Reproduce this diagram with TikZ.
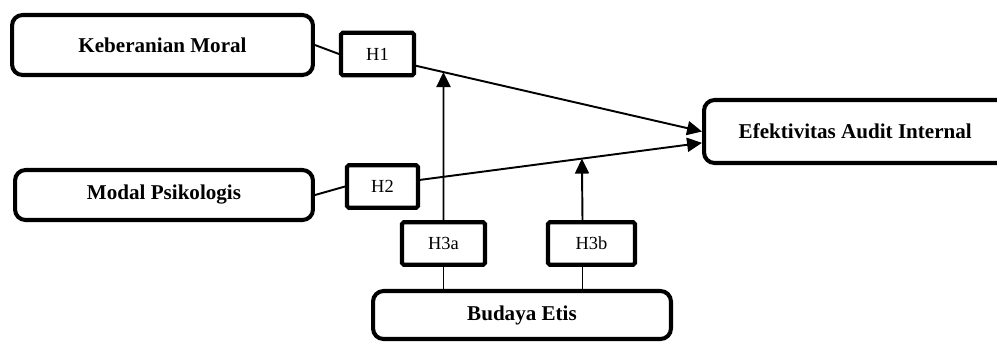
\documentclass[tikz,border=0pt]{standalone}
\usepackage{fontspec}
\setmainfont{Liberation Serif}
\usetikzlibrary{arrows.meta, calc}

\begin{document}
\begin{tikzpicture}[
  x=0.02cm, y=-0.02cm,
  varbox/.style={rectangle, rounded corners=6pt, draw, line width=2.3pt,
                 minimum width=5.96cm, align=center,
                 font=\fontsize{12}{14}\selectfont\bfseries},
  hyp/.style={rectangle, rounded corners=1pt, draw, line width=2.3pt,
              minimum height=0.85cm, font=\fontsize{10.5}{12}\selectfont},
  link/.style={line width=1.1pt},
  arr/.style={-{Triangle[length=8.5pt, width=8pt]}, line width=1.1pt}
]
\useasboundingbox (0,0) rectangle (997,343);

\node[varbox, minimum width=6.02cm, minimum height=1.2cm] (moral) at (162.5,45) {Keberanian Moral};
\node[varbox, minimum height=1.0cm]  (modal)  at (164,195)   {Modal Psikologis};
\node[varbox, minimum width=6.4cm, minimum height=1.26cm] (efek) at (864,131.5) {Efektivitas Audit Internal\hspace*{0.35cm}};
\node[varbox, minimum height=0.96cm] (budaya) at (522,315)   {Budaya Etis};

\node[hyp, minimum width=1.46cm] (h1)  at (377.5,54)  {H1};
\node[hyp, minimum width=1.42cm] (h2)  at (382.5,186.5) {H2};
\node[hyp, minimum width=1.66cm] (h3a) at (443.5,243.5) {H3a};
\node[hyp, minimum width=1.74cm] (h3b) at (591.5,243.5) {H3b};

\draw[link] (moral.east) -- (h1.west);
\draw[arr]  (h1.-17) -- coordinate[pos=0.096] (m1) (efek.west);
\draw[link] (modal.east) -- (h2.west);
\draw[arr]  (h2.10) -- coordinate[pos=0.574] (m2) (efek.184.6);

\draw[link] (budaya.north -| h3a.south) -- (h3a.south);
\draw[arr]  (h3a.north) -- (m1);
\draw[link] ([xshift=-0.18cm]h3b.south) -- ([xshift=-0.18cm]h3b.south |- budaya.north);
\draw[arr]  ([xshift=-0.18cm]h3b.north) -- (m2);

\end{tikzpicture}
\end{document}
